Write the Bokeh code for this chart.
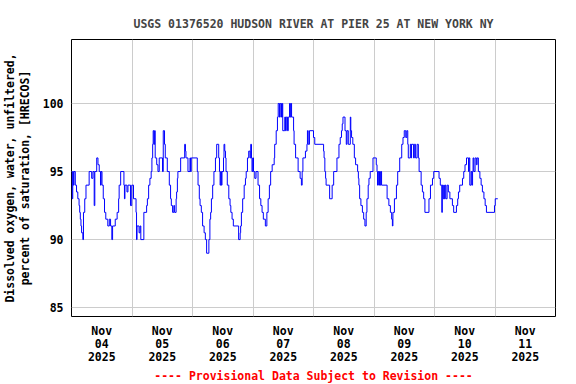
from bokeh.plotting import figure
from bokeh.models import FixedTicker, Range1d, Title
from bokeh.embed import file_html
from bokeh.resources import INLINE

TITLE = "USGS 01376520 HUDSON RIVER AT PIER 25 AT NEW YORK NY"
Y_LABEL = "Dissolved oxygen, water, unfiltered,\npercent of saturation, [HRECOS]"
FOOTER = "---- Provisional Data Subject to Revision ----"

# x axis: hours since Nov 04 2025 00:00
day_labels = ["Nov\n04\n2025", "Nov\n05\n2025", "Nov\n06\n2025", "Nov\n07\n2025",
              "Nov\n08\n2025", "Nov\n09\n2025", "Nov\n10\n2025", "Nov\n11\n2025"]
y_ticks = [85, 90, 95, 100]

hours = [
    0, 0.25, 0.5, 0.75, 1.0, 1.5, 2.0, 2.5, 3.0, 3.25,
    3.5, 3.75, 4.0, 4.5, 4.75, 5.25, 5.75, 7.0, 8.0, 8.5,
    9.0, 9.25, 10.0, 10.5, 11.0, 11.5, 11.75, 12.1, 12.6, 13.1,
    13.6, 14.4, 15.0, 15.5, 16.0, 16.3, 17.35, 18.1, 18.7, 18.9,
    19.5, 20.8, 21.0, 21.2, 22.0, 22.4, 23.4, 23.9, 24.6, 25.6,
    25.8, 26.0, 26.8, 27.2, 27.5, 28.7, 29.8, 30.1, 30.6, 31.1,
    31.6, 31.9, 32.2, 32.4, 32.7, 32.97, 33.2, 33.8, 34.3, 34.8,
    36.1, 36.4, 36.9, 37.2, 38.0, 38.8, 39.3, 39.6, 40.1, 40.6,
    40.9, 41.5, 41.7, 42.0, 42.2, 43.3, 44.9, 45.2, 45.4, 46.2,
    47.0, 47.2, 47.5, 49.9, 50.2, 50.7, 51.0, 51.5, 52.0, 52.6,
    53.1, 53.6, 54.5, 54.9, 55.2, 55.5, 56.0, 56.5, 57.1, 57.6,
    58.4, 58.7, 58.95, 59.2, 59.45, 59.7, 60.3, 60.5, 60.8, 61.1,
    61.3, 61.8, 62.4, 62.9, 63.2, 63.7, 64.2, 66.3, 66.9, 67.1,
    67.4, 67.9, 68.5, 69.0, 69.3, 69.8, 70.3, 70.8, 71.1, 71.4,
    71.6, 71.9, 72.2, 72.7, 73.2, 74.0, 74.6, 75.1, 75.6, 76.1,
    76.9, 77.5, 78.0, 78.5, 79.0, 79.6, 80.4, 80.6, 81.2, 81.7,
    82.0, 82.5, 82.8, 83.3, 83.6, 83.8, 84.6, 84.9, 85.2, 85.7,
    86.0, 86.5, 86.75, 87.0, 87.3, 88.1, 88.3, 88.9, 89.9, 90.7,
    91.2, 91.5, 91.8, 92.8, 93.4, 93.6, 93.9, 94.4, 96.0, 96.5,
    100.0, 100.2, 100.5, 100.8, 101.0, 102.4, 103.4, 104.0, 105.3, 106.1,
    106.6, 107.1, 107.4, 107.7, 108.5, 109.0, 109.3, 109.8, 110.6, 110.8,
    111.1, 111.6, 112.2, 112.7, 113.5, 113.8, 114.0, 114.3, 114.8, 115.4,
    115.9, 116.4, 116.9, 117.2, 117.7, 118.0, 118.5, 119.6, 120.9, 121.2,
    121.4, 121.7, 122.0, 122.2, 122.5, 122.75, 123.0, 125.2, 125.9, 126.5,
    127.0, 127.3, 127.5, 128.1, 128.9, 129.4, 130.2, 131.0, 131.5, 132.0,
    132.6, 133.0, 133.4, 133.6, 134.4, 134.7, 134.9, 135.7, 136.0, 136.5,
    137.1, 137.6, 137.9, 138.7, 139.2, 139.7, 140.2, 141.8, 142.4, 143.2,
    143.7, 145.8, 146.3, 146.9, 147.1, 147.4, 147.7, 147.9, 148.2, 148.5,
    149.0, 149.5, 150.1, 151.1, 151.6, 152.7, 153.2, 153.5, 154.0, 155.1,
    155.6, 156.1, 156.7, 157.5, 157.7, 158.0, 158.5, 158.8, 159.1, 159.3,
    159.6, 160.1, 160.6, 160.9, 161.4, 162.0, 162.5, 163.0, 163.6, 164.1,
    164.6, 167.8, 168.1, 169.1,
]

do_pct = [
    95, 93, 95, 94, 95, 94, 93.5, 93, 92.5, 92,
    91.5, 91, 90.5, 90, 92, 93, 94, 95, 94.5, 95,
    92.5, 95, 96, 95.5, 95, 94, 95, 94, 93, 92,
    91.5, 91, 91.5, 91, 90, 91, 91.5, 92, 93, 94,
    95, 94, 93, 94, 93.5, 94, 92.5, 94, 93, 92,
    90, 91, 90.5, 91, 90, 92, 92.5, 93, 94, 94.5,
    95, 96, 97, 98, 97, 98, 96, 95.5, 95, 96,
    95, 98, 97, 96, 95, 94, 93, 92.5, 92, 92.5,
    92, 93, 93.5, 94.5, 95, 96, 97, 96.5, 96, 95,
    96, 95, 96, 95, 94, 93, 92.5, 92, 91, 90.5,
    90, 89, 90, 91.5, 92, 93, 94, 95, 96, 97,
    96, 95, 94, 95, 94, 95, 96, 97, 96.5, 96,
    95, 94, 93, 92.5, 92, 91.5, 91, 90, 90.5, 91,
    92, 93, 94, 94.5, 95, 96, 96.5, 96, 97, 96,
    95, 96, 95, 94.5, 95, 94, 93, 92.5, 92, 91.5,
    91, 92, 93, 94, 95, 95.5, 96, 97, 98, 99,
    100, 99, 100, 99, 100, 98, 99, 98, 99, 98,
    99, 100, 99, 100, 99, 98, 97, 96, 95, 94.5,
    94, 95, 96, 96.5, 97, 98, 97, 98, 97.5, 97,
    96.5, 96, 95, 94.5, 94, 93, 94, 95, 96, 97,
    97.5, 98, 98.5, 99, 98, 97, 98, 97, 99, 98,
    97.5, 97, 96, 95.5, 95, 94.5, 94, 93, 92.5, 92,
    91.5, 91, 92, 93, 94, 94.5, 95, 96, 95.5, 95,
    94, 95, 94, 95, 94, 95, 94, 93, 92.5, 92,
    91.5, 91, 92, 93, 94, 95, 96, 97, 97.5, 98,
    97.5, 98, 97, 96, 97, 96, 97, 96, 97, 96,
    97, 96, 95, 94, 93.5, 93, 92, 93, 94, 94.5,
    95, 94.5, 94, 92, 94, 93, 94, 93, 94, 93,
    94, 93.5, 93, 92.5, 92, 92.5, 93, 93.5, 94, 94.5,
    95, 95.5, 96, 95, 96, 94, 95, 94, 95, 96,
    95, 96, 95.5, 96, 95, 94.5, 94, 93.5, 93, 92.5,
    92, 92.5, 93, 93,
]

FONT = "DejaVu Sans Mono"

p = figure(frame_width=484, frame_height=277, output_backend="svg",
           toolbar_location=None,
           x_range=Range1d(0, 192), y_range=Range1d(84.35, 104.7),
           min_border_left=71, min_border_right=21, min_border_top=39,
           min_border_bottom=68)

p.step(hours, do_pct, mode="after", line_color="#0000ff", line_width=1)

p.title.text = TITLE
p.title.align = "center"
p.title.text_font = FONT
p.title.text_font_size = "11.5px"
p.title.text_font_style = "bold"
p.title.standoff = 18

p.add_layout(Title(text=FOOTER, align="center", text_color="#ff0000",
                   text_font=FONT, text_font_size="11.5px",
                   text_font_style="bold", standoff=0), "below")

noons = [12 + 24 * i for i in range(len(day_labels))]
midnights = [24 * i for i in range(1, len(day_labels))]

p.xaxis.ticker = FixedTicker(ticks=noons)
p.xaxis.major_label_overrides = {t: lab for t, lab in zip(noons, day_labels)}
p.xgrid.ticker = FixedTicker(ticks=midnights)
p.yaxis.ticker = FixedTicker(ticks=y_ticks)
p.yaxis.axis_label = Y_LABEL

for ax in (p.xaxis[0], p.yaxis[0]):
    ax.major_label_text_font = FONT
    ax.major_label_text_font_size = "11.5px"
    ax.major_label_text_font_style = "bold"
    ax.major_label_text_color = "black"
    ax.major_tick_line_color = None
    ax.minor_tick_line_color = None
    ax.major_tick_out = 0
    ax.minor_tick_out = 0
    ax.axis_line_color = None
    ax.axis_label_text_font = FONT
    ax.axis_label_text_font_size = "11.5px"
    ax.axis_label_text_font_style = "bold"
    ax.axis_label_text_color = "black"

p.xaxis.major_label_text_line_height = 0.93
p.xaxis.major_label_standoff = 7
p.yaxis.major_label_standoff = 8
p.yaxis.axis_label_text_line_height = 1.05
p.yaxis.axis_label_standoff = 8

p.grid.grid_line_color = "#cccccc"
p.grid.grid_line_width = 1
p.outline_line_color = "black"
p.outline_line_width = 1
p.background_fill_color = "white"
p.border_fill_color = "white"

open("out.html", "w").write(file_html(p, INLINE))
